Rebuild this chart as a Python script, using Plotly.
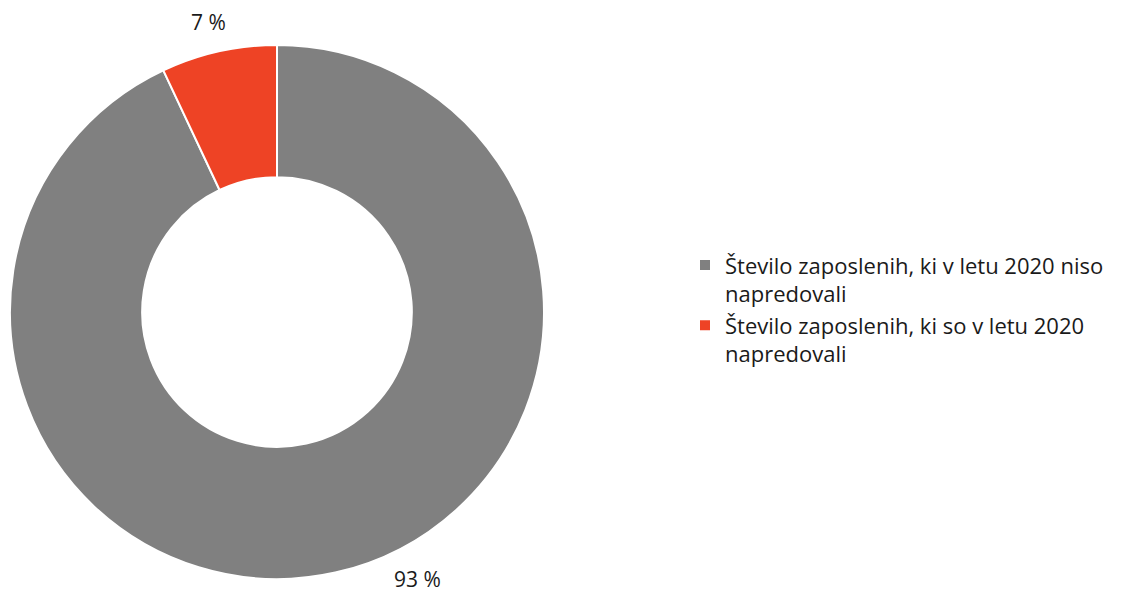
import plotly.graph_objects as go

categories = ["Število zaposlenih, ki v letu 2020 niso napredovali",
              "Število zaposlenih, ki so v letu 2020 napredovali"]
legend_labels = ["Število zaposlenih, ki v letu 2020 niso<br>napredovali",
                 "Število zaposlenih, ki so v letu 2020<br>napredovali"]
values = [93, 7]
colors = ["#808080", "#EE4325"]

W, H = 1123, 594
OFF = 8  # page body margin
font = "'Open Sans', Lato, sans-serif"

# label positions in pixels (page coords), converted to paper
label_px = [(417, 579), (208, 22)]
label_pos = [((x - OFF) / W, 1 - (y - OFF) / H) for x, y in label_px]

fig = go.Figure(go.Pie(
    labels=legend_labels,
    values=values,
    hole=0.505,
    sort=False,
    direction="clockwise",
    rotation=0,
    marker=dict(colors=colors, line=dict(color="white", width=2)),
    textinfo="none",
    hoverinfo="label+percent",
    domain=dict(x=[(10 - OFF) / W, (544 - OFF) / W],
                y=[(H - 579 + OFF) / H, (H - 45 + OFF) / H]),
))

for v, (px, py) in zip(values, label_pos):
    fig.add_annotation(x=px, y=py, xref="paper", yref="paper",
                       xanchor="center", yanchor="middle",
                       text=f"{v} %", showarrow=False,
                       font=dict(size=21, color="#1a1a1a", family=font))

fig.update_layout(
    width=W, height=H,
    margin=dict(l=0, r=0, t=0, b=0),
    paper_bgcolor="white",
    font=dict(family=font, size=22, color="#1a1a1a"),
    legend=dict(x=677 / W, xanchor="left", y=0.492, yanchor="middle",
                valign="top", itemwidth=30,
                font=dict(size=22, family=font)),
    showlegend=True,
)

fig.write_html("out.html")
